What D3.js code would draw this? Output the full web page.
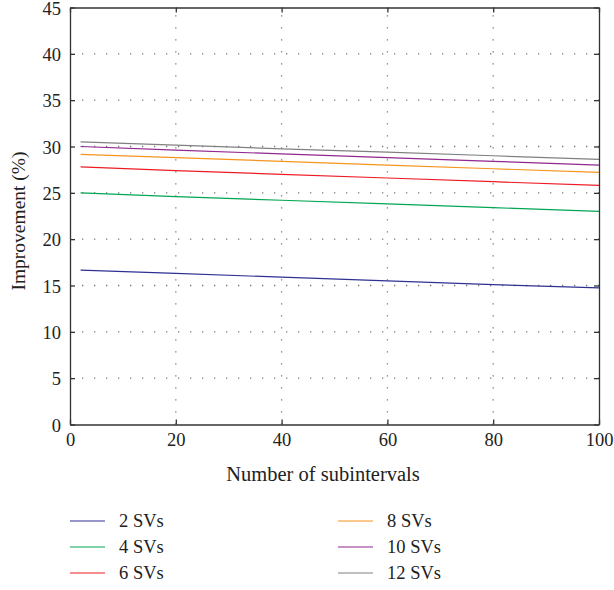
<!DOCTYPE html>
<html><head><meta charset="utf-8">
<script src="https://cdn.jsdelivr.net/npm/d3@7"></script>
<style>body{margin:0;background:#fff}svg{display:block}text{font-family:"Liberation Serif","DejaVu Serif",serif;fill:#222}</style>
</head><body>
<script>
const xValues = [2, 20, 40, 60, 80, 100];
const seriesNames = ["2 SVs", "4 SVs", "6 SVs", "8 SVs", "10 SVs", "12 SVs"];
const sv2  = [16.65, 16.3, 15.9, 15.5, 15.1, 14.75];
const sv4  = [25.0, 24.6, 24.2, 23.8, 23.4, 23.0];
const sv6  = [27.8, 27.4, 27.0, 26.6, 26.2, 25.8];
const sv8  = [29.15, 28.8, 28.4, 28.0, 27.6, 27.2];
const sv10 = [30.0, 29.6, 29.2, 28.8, 28.4, 28.0];
const sv12 = [30.5, 30.15, 29.75, 29.4, 29.0, 28.6];
const colors = ["#2e3192", "#00a651", "#ed1c24", "#f7941d", "#92278f", "#808080"];
const xTicks = [0, 20, 40, 60, 80, 100];
const yTicks = [0, 5, 10, 15, 20, 25, 30, 35, 40, 45];
const xLabel = "Number of subintervals";
const yLabel = "Improvement (%)";

const series = [sv2, sv4, sv6, sv8, sv10, sv12];
const W = 614, H = 590;
const L = 70, R = 599, T = 7.5, B = 424.5;
const svg = d3.select("body").append("svg").attr("width", W).attr("height", H);
const x = d3.scaleLinear().domain([0, 100]).range([L, R]);
const y = d3.scaleLinear().domain([0, 45]).range([B, T]);

// grid
const grid = svg.append("g").attr("stroke", "#777").attr("stroke-width", 1.3).attr("stroke-dasharray", "1.3,10.7");
grid.selectAll("line.gx").data(xTicks.filter(d => d > 0 && d < 100)).enter().append("line")
  .attr("x1", d => x(d)).attr("x2", d => x(d)).attr("y1", B).attr("y2", T);
grid.selectAll("line.gy").data(yTicks.filter(d => d > 0 && d < 45)).enter().append("line")
  .attr("y1", d => y(d)).attr("y2", d => y(d)).attr("x1", L).attr("x2", R);

// series
const line = d3.line().x((d, i) => x(xValues[i])).y(d => y(d));
svg.append("g").selectAll("path").data(series).enter().append("path")
  .attr("d", d => line(d)).attr("fill", "none")
  .attr("stroke", (d, i) => colors[i]).attr("stroke-width", 1.2);

// axes (inward ticks)
const fs = 18.5;
const ax = svg.append("g").attr("transform", `translate(0,${B})`)
  .call(d3.axisBottom(x).tickValues(xTicks).tickSizeInner(-5).tickSizeOuter(0).tickPadding(8));
const ay = svg.append("g").attr("transform", `translate(${L},0)`)
  .call(d3.axisLeft(y).tickValues(yTicks).tickSizeInner(-5).tickSizeOuter(0).tickPadding(9));
const axT = svg.append("g").attr("transform", `translate(0,${T})`)
  .call(d3.axisTop(x).tickValues(xTicks).tickSizeInner(-5).tickSizeOuter(0).tickFormat(""));
const ayR = svg.append("g").attr("transform", `translate(${R},0)`)
  .call(d3.axisRight(y).tickValues(yTicks).tickSizeInner(-5).tickSizeOuter(0).tickFormat(""));
[ax, ay, axT, ayR].forEach(g => {
  g.select(".domain").attr("stroke", "#333").attr("stroke-width", 1.3);
  g.selectAll(".tick line").attr("stroke", "#333").attr("stroke-width", 1.3);
  g.selectAll(".tick text").attr("font-family", '"Liberation Serif",serif').attr("font-size", fs).attr("fill", "#222");
});
ax.selectAll(".tick text").attr("dy", "0.71em");
ay.selectAll(".tick text").attr("dy", "0.36em");

svg.append("text").attr("x", 323).attr("y", 481).attr("text-anchor", "middle")
  .attr("font-size", 20.5).text(xLabel);
svg.append("text").attr("transform", `translate(25,${(T + B) / 2 + 5}) rotate(-90)`)
  .attr("text-anchor", "middle").attr("font-size", 19.5).text(yLabel);

// legend
const legX = [70, 338], legY = [521, 547, 573];
const leg = svg.append("g").selectAll("g").data(seriesNames).enter().append("g")
  .attr("transform", (d, i) => `translate(${legX[Math.floor(i / 3)]},${legY[i % 3]})`);
leg.append("line").attr("x1", 0).attr("x2", 35).attr("stroke", (d, i) => colors[i]).attr("stroke-width", 1.2);
leg.append("text").attr("x", 49).attr("dy", "0.35em").attr("font-size", 18.5).text(d => d);
</script>
</body></html>
